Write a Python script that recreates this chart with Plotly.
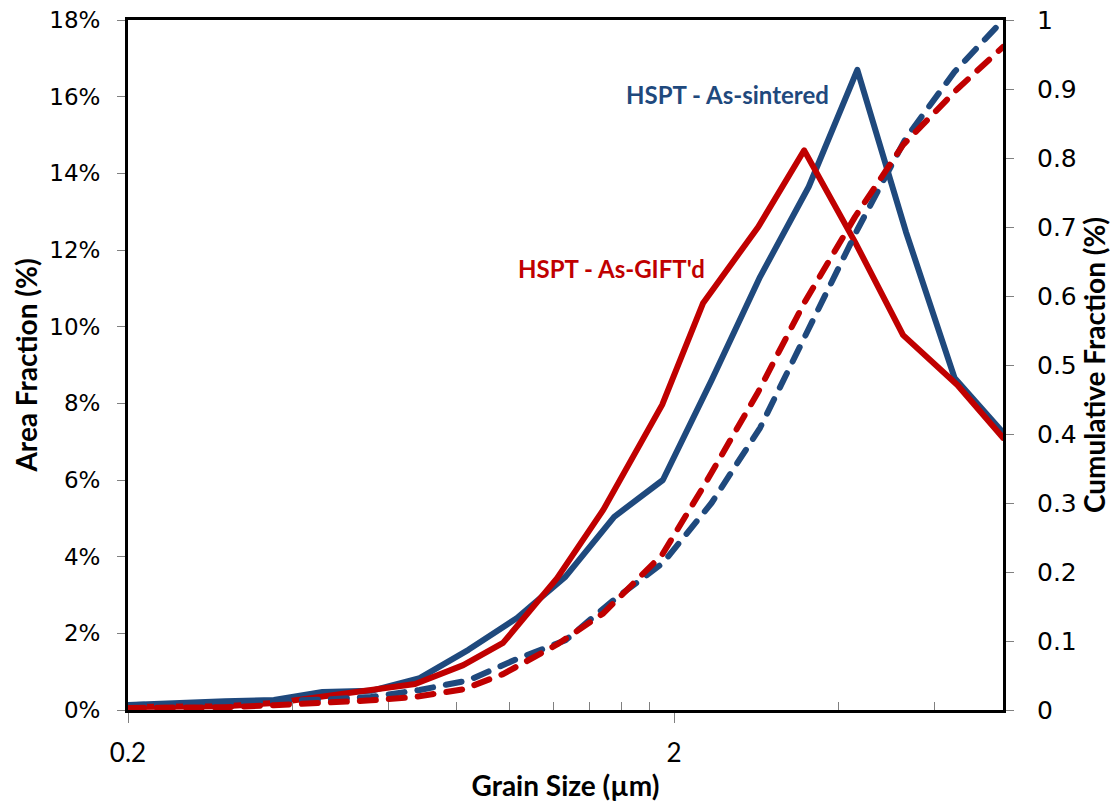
import plotly.graph_objects as go

# Grain size bins (µm)
size_sintered = [0.200, 0.246, 0.301, 0.370, 0.454, 0.557, 0.684, 0.840, 1.031, 1.265,
                 1.553, 1.907, 2.341, 2.873, 3.527, 4.329, 5.314, 6.523, 8.006]
size_gifted = [0.200, 0.246, 0.301, 0.370, 0.454, 0.557, 0.671, 0.822, 0.972, 1.221,
               1.483, 1.901, 2.260, 2.850, 3.460, 4.290, 5.250, 6.600, 8.000]

# Area fraction per bin (%)
area_sintered = [0.13, 0.20, 0.23, 0.26, 0.47, 0.50, 0.83, 1.57, 2.40, 3.48,
                 5.04, 6.00, 8.60, 11.30, 13.65, 16.70, 12.47, 8.66, 7.23]
area_gifted = [0.08, 0.09, 0.10, 0.18, 0.34, 0.50, 0.68, 1.17, 1.75, 3.44,
               5.22, 7.96, 10.62, 12.60, 14.60, 12.20, 9.78, 8.48, 7.10]

# Cumulative fraction
cum_sintered = [0.007, 0.009, 0.010, 0.012, 0.015, 0.019, 0.029, 0.043, 0.074, 0.101,
                0.160, 0.213, 0.300, 0.409, 0.551, 0.696, 0.829, 0.925, 1.000]
cum_gifted = [0.003, 0.003, 0.004, 0.007, 0.010, 0.014, 0.019, 0.030, 0.052, 0.095,
              0.140, 0.225, 0.323, 0.461, 0.590, 0.715, 0.819, 0.900, 0.961]

x_major = [0.2, 2]
x_minor = [0.4, 0.6, 0.8, 1.0, 1.2, 1.4, 1.6, 1.8, 4, 6]

BLUE = "#1F497D"
RED = "#C00000"
LW = 6

fig = go.Figure()
fig.add_trace(go.Scatter(x=size_sintered, y=area_sintered, mode="lines",
                         line=dict(color=BLUE, width=LW), name="HSPT - As-sintered"))
fig.add_trace(go.Scatter(x=size_gifted, y=area_gifted, mode="lines",
                         line=dict(color=RED, width=LW), name="HSPT - As-GIFT'd"))
fig.add_trace(go.Scatter(x=size_sintered, y=cum_sintered, mode="lines", yaxis="y2",
                         line=dict(color=BLUE, width=LW, dash="16px,13px")))
fig.add_trace(go.Scatter(x=size_gifted, y=cum_gifted, mode="lines", yaxis="y2",
                         line=dict(color=RED, width=LW, dash="16px,13px")))

title_font = dict(family="Lato", size=28, color="black")

fig.update_layout(
    width=1115, height=811,
    margin=dict(l=128, r=112, t=20, b=101, autoexpand=False),
    paper_bgcolor="white", plot_bgcolor="white",
    showlegend=False,
    xaxis=dict(
        type="log", range=[-0.69897, 0.90309], automargin=False,
        tickvals=x_major, ticktext=["0.2", "2"],
        ticks="outside", ticklen=10, tickwidth=1, tickcolor="#808080",
        tickfont=dict(family="Lato", size=26, color="black"),
        ticklabelstandoff=8,
        minor=dict(tickvals=x_minor, ticks="inside", ticklen=8, tickwidth=1,
                   tickcolor="#808080", showgrid=False),
        showline=True, linecolor="black", linewidth=3, mirror=True,
        showgrid=False, zeroline=False,
        title=dict(text="<b>Grain Size (µm)</b>", font=title_font, standoff=10),
    ),
    yaxis=dict(
        range=[0, 18], dtick=2, tick0=0, ticksuffix="%", automargin=False,
        ticks="outside", ticklen=8, tickwidth=1, tickcolor="#808080",
        tickfont=dict(family="DejaVu Sans", size=23, color="black"),
        ticklabelstandoff=12,
        showline=True, linecolor="black", linewidth=3,
        showgrid=False, zeroline=False,
        title=dict(text="<b>Area Fraction (%)</b>", font=title_font, standoff=4),
    ),
    yaxis2=dict(
        range=[0, 1], dtick=0.1, tick0=0, overlaying="y", side="right",
        automargin=False,
        ticks="outside", ticklen=8, tickwidth=1, tickcolor="#808080",
        tickfont=dict(family="DejaVu Sans", size=25, color="black"),
        ticklabelstandoff=18,
        showline=True, linecolor="black", linewidth=3,
        showgrid=False, zeroline=False,
        title=dict(text="<b>Cumulative Fraction (%)</b>", font=title_font, standoff=6),
    ),
    annotations=[
        dict(text="<b>HSPT - As-sintered</b>", xref="paper", yref="paper",
             x=0.6857, y=0.892, xanchor="center", yanchor="middle", showarrow=False,
             font=dict(family="Lato", size=24, color=BLUE)),
        dict(text="<b>HSPT - As-GIFT'd</b>", xref="paper", yref="paper",
             x=0.552, y=0.640, xanchor="center", yanchor="middle", showarrow=False,
             font=dict(family="Lato", size=24, color=RED)),
    ],
)

# Round line caps and joins for the data lines
round_caps = """
var s = document.createElement('style');
s.textContent = '.scatterlayer .js-line { stroke-linecap: round; stroke-linejoin: round; }';
document.head.appendChild(s);
"""

fig.write_html("out.html", post_script=round_caps)
